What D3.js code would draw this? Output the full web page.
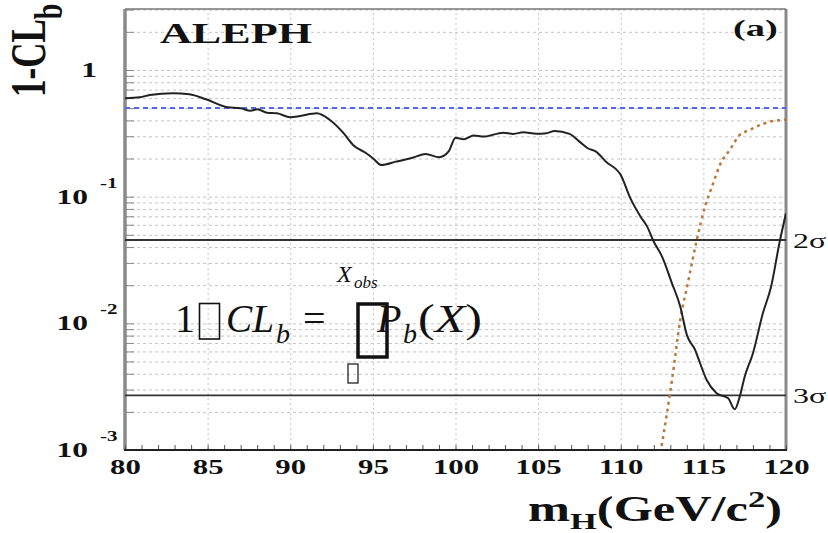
<!DOCTYPE html>
<html><head><meta charset="utf-8">
<script src="https://cdn.jsdelivr.net/npm/d3@7"></script>
<style>body{margin:0;background:#fff} svg{display:block}</style>
</head><body><svg id="c" width="828" height="533"></svg>
<script>
// ---- data ----
const massObs = [80.0,80.9,81.5,82.9,83.9,84.9,86.2,87.0,87.6,88.0,88.6,89.2,90.0,90.6,91.6,92.4,93.2,93.8,94.6,95.0,95.5,96.4,97.4,98.2,99.0,99.6,100.0,100.5,101.1,101.7,102.9,103.5,104.1,104.9,105.5,106.0,106.9,107.5,108.0,108.5,109.1,110.0,110.6,111.2,111.6,112.0,112.5,113.1,113.6,114.0,114.5,114.8,115.2,115.8,116.5,116.9,117.2,117.5,118.0,118.6,119.1,119.6,120.0];
const clbObs = [0.598,0.609,0.635,0.655,0.643,0.587,0.508,0.498,0.477,0.490,0.460,0.455,0.423,0.433,0.455,0.403,0.320,0.256,0.220,0.201,0.178,0.189,0.203,0.217,0.205,0.229,0.292,0.284,0.304,0.298,0.320,0.313,0.322,0.314,0.317,0.330,0.313,0.272,0.241,0.227,0.189,0.148,0.096,0.0695,0.058,0.0441,0.0336,0.0207,0.0136,0.0081,0.00617,0.00484,0.00357,0.00281,0.00256,0.00210,0.00264,0.00379,0.00581,0.0120,0.0195,0.0429,0.0740];
const massSB = [112.4,112.8,113.1,113.6,114.1,114.6,115.1,115.6,116.0,116.6,117.2,117.8,118.6,119.2,119.8,120.0];
const clSB = [0.00095,0.00196,0.00357,0.0106,0.0220,0.0455,0.0834,0.128,0.178,0.234,0.307,0.336,0.375,0.396,0.403,0.406];
const xTickValues = [80,85,90,95,100,105,110,115,120];
const yDecades = [0.001,0.01,0.1,1];
const yDecadeExp = ["-3","-2","-1",""];
const sigmaLabels = ["2σ","3σ"];
const sigmaValues = [0.0455,0.0027];
const expectedLine = 0.5;

// ---- layout ----
const svg = d3.select("#c");
const L = 125, R = 786, T = 9, B = 450;
const x = d3.scaleLinear().domain([80,120]).range([L,R]);
const y = d3.scaleLog().domain([0.001,3.03]).range([B,T]);
const serif = "'Liberation Serif','Times New Roman',serif";

svg.append("defs").append("clipPath").attr("id","clip")
  .append("rect").attr("x",L).attr("y",T).attr("width",R-L).attr("height",B-T);

// minor log values for grid
const minor = [];
for (let e=-3; e<=0; e++) for (let k=1;k<=9;k++){ const v=k*Math.pow(10,e); if (v<=3.03) minor.push(v); }

// horizontal grid
svg.append("g").attr("class","hgrid")
  .call(d3.axisLeft(y).tickValues(minor.filter(v=>v>0.001)).tickSize(-(R-L)).tickFormat(""))
  .attr("transform",`translate(${L},0)`)
  .call(g=>g.select(".domain").remove())
  .call(g=>g.selectAll("line").attr("stroke","#c4c4c4").attr("stroke-dasharray","3,3").attr("stroke-width",1));

// vertical grid
svg.append("g").attr("class","vgrid")
  .attr("transform",`translate(0,${B})`)
  .call(d3.axisBottom(x).tickValues(xTickValues.slice(1,-1)).tickSize(-(B-T)).tickFormat(""))
  .call(g=>g.select(".domain").remove())
  .call(g=>g.selectAll("line").attr("stroke","#c4c4c4").attr("stroke-dasharray","2,3").attr("stroke-width",1));

// left axis ticks (inward)
svg.append("g").attr("transform",`translate(${L},0)`)
  .call(d3.axisLeft(y).tickValues(minor).tickSize(-9).tickFormat(""))
  .call(g=>g.select(".domain").remove())
  .call(g=>g.selectAll("line").attr("stroke","#888").attr("stroke-width",1));
svg.append("line").attr("x1",L).attr("x2",L).attr("y1",T).attr("y2",B)
  .attr("stroke","#8a8a8a").attr("stroke-width",3.5);

// right & top border
svg.append("line").attr("x1",R).attr("x2",R).attr("y1",T).attr("y2",B).attr("stroke","#8a8a8a").attr("stroke-width",3);
svg.append("line").attr("x1",L).attr("x2",R).attr("y1",T).attr("y2",T).attr("stroke","#777").attr("stroke-width",1.5);

// bottom axis ticks
svg.append("g").attr("transform",`translate(0,${B})`)
  .call(d3.axisBottom(x).tickValues(d3.range(80,121,1)).tickSize(-5).tickFormat(""))
  .call(g=>g.select(".domain").remove())
  .call(g=>g.selectAll("line").attr("stroke","#555").attr("stroke-width",1));
svg.append("line").attr("x1",L-1).attr("x2",R+1).attr("y1",B).attr("y2",B).attr("stroke","#222").attr("stroke-width",2);

// x tick labels
svg.append("g").attr("transform",`translate(0,${B})`)
  .call(d3.axisBottom(x).tickValues(xTickValues).tickSize(0).tickFormat(d3.format("d")))
  .call(g=>g.select(".domain").remove())
  .call(g=>g.selectAll("text").attr("y",null).attr("dy",null)
     .attr("transform","translate(0,24) scale(1.4,1)")
     .attr("font-family",serif).attr("font-weight","bold").attr("font-size",22).attr("fill","#111"));

// y tick labels
yDecades.forEach((v,i)=>{
  const yy = y(v);
  if (yDecadeExp[i]==="") {
    svg.append("text").attr("transform",`translate(97,${yy+7}) scale(1.5,1)`)
      .attr("text-anchor","end").attr("font-family",serif).attr("font-weight","bold")
      .attr("font-size",21).attr("fill","#111").text("1");
  } else {
    svg.append("text").attr("transform",`translate(88,${yy+7}) scale(1.5,1)`)
      .attr("text-anchor","end").attr("font-family",serif).attr("font-weight","bold")
      .attr("font-size",21).attr("fill","#111").text("10");
    svg.append("text").attr("transform",`translate(100,${yy-9}) scale(1.5,1)`)
      .attr("font-family",serif).attr("font-weight","bold")
      .attr("font-size",14).attr("fill","#111").text(yDecadeExp[i]);
  }
});

// reference lines
svg.append("line").attr("x1",L).attr("x2",R).attr("y1",y(expectedLine)).attr("y2",y(expectedLine))
  .attr("stroke","#5566ee").attr("stroke-width",2).attr("stroke-dasharray","5,4");
sigmaValues.forEach((v,i)=>{
  svg.append("line").attr("x1",L).attr("x2",R).attr("y1",y(v)).attr("y2",y(v))
    .attr("stroke","#333").attr("stroke-width",1.8);
  svg.append("text").attr("transform",`translate(793,${y(v)+8}) scale(1.45,1)`)
    .attr("font-family",serif).attr("font-size",22).attr("fill","#111").text(sigmaLabels[i]);
});

// curves
const plot = svg.append("g").attr("clip-path","url(#clip)");
const line = d3.line().x(d=>x(d[0])).y(d=>y(d[1])).curve(d3.curveMonotoneX);
plot.append("path").datum(massSB.map((m,i)=>[m,clSB[i]])).attr("d",line)
  .attr("fill","none").attr("stroke","#b87a3c").attr("stroke-width",2.5).attr("stroke-dasharray","3,4");
plot.append("path").datum(massObs.map((m,i)=>[m,clbObs[i]])).attr("d",line)
  .attr("fill","none").attr("stroke","#222").attr("stroke-width",2);

// titles
svg.append("text").attr("x",160).attr("y",43).attr("font-family",serif).attr("font-weight","bold")
  .attr("font-size",30).attr("textLength",152).attr("lengthAdjust","spacingAndGlyphs").attr("fill","#111").text("ALEPH");
svg.append("text").attr("transform","translate(733,36) scale(1.6,1)").attr("font-family",serif).attr("font-weight","bold")
  .attr("font-size",24).attr("fill","#111").text("(a)");

// x title
const xt = svg.append("text").attr("transform","translate(528,521) scale(1.44,1)")
  .attr("font-family",serif).attr("font-weight","bold").attr("font-size",35).attr("fill","#111");
xt.append("tspan").text("m");
xt.append("tspan").attr("font-size",24).attr("dy",8).text("H");
xt.append("tspan").attr("dy",-8).text("(GeV/c");
xt.append("tspan").attr("font-size",24).attr("dy",-14).text("2");
xt.append("tspan").attr("dy",14).text(")");

// y title
const yt = svg.append("text").attr("transform","translate(45,97) scale(1.42,1) rotate(-90)")
  .attr("font-family",serif).attr("font-weight","bold").attr("font-size",35).attr("fill","#111");
yt.append("tspan").text("1-CL");
yt.append("tspan").attr("font-size",28).attr("dy",12).text("b");

// formula
const f = svg.append("g").attr("font-family",serif).attr("fill","#111");
f.append("text").attr("x",175).attr("y",332).attr("font-size",40).text("1");
f.append("rect").attr("x",199.5).attr("y",303.5).attr("width",20).attr("height",35.5).attr("fill","none").attr("stroke","#111").attr("stroke-width",1.6);
f.append("text").attr("x",226).attr("y",332).attr("font-size",40).attr("font-style","italic")
  .attr("textLength",48).attr("lengthAdjust","spacingAndGlyphs").text("CL");
f.append("text").attr("x",276).attr("y",343).attr("font-size",28).attr("font-style","italic").text("b");
f.append("text").attr("x",303).attr("y",332).attr("font-size",40).text("=");
f.append("text").attr("x",337).attr("y",282).attr("font-size",24).attr("font-style","italic").text("X");
f.append("text").attr("x",354).attr("y",288).attr("font-size",17).attr("font-style","italic").text("obs");
f.append("text").attr("x",377).attr("y",332).attr("font-size",40).attr("font-style","italic").text("P");
f.append("rect").attr("x",358).attr("y",304).attr("width",29).attr("height",53).attr("fill","none").attr("stroke","#111").attr("stroke-width",3.5);
f.append("text").attr("x",403).attr("y",343).attr("font-size",28).attr("font-style","italic").text("b");
const px = f.append("text").attr("x",418).attr("y",332).attr("font-size",40)
  .attr("textLength",64).attr("lengthAdjust","spacingAndGlyphs");
px.append("tspan").text("(");
px.append("tspan").attr("font-style","italic").text("X");
px.append("tspan").text(")");
f.append("rect").attr("x",348).attr("y",364).attr("width",10).attr("height",19).attr("fill","none").attr("stroke","#111").attr("stroke-width",1.2);
</script></body></html>
